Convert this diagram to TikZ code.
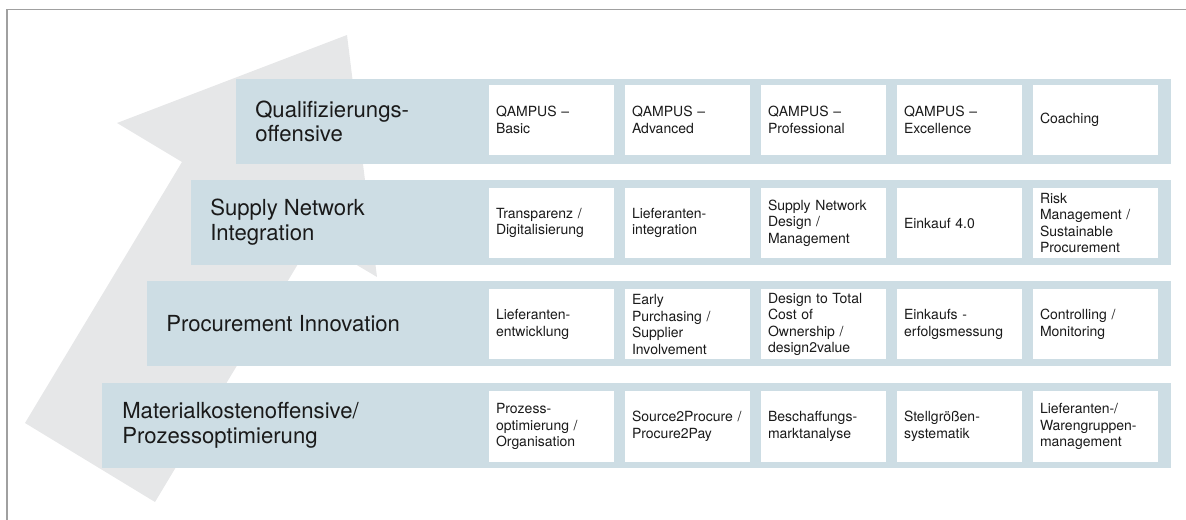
\documentclass[tikz,border=0pt]{standalone}
\usepackage{fontspec}
\setmainfont{TeX Gyre Heros}
\definecolor{rowblue}{HTML}{CDDDE4}
\definecolor{arrowgray}{HTML}{E6E7E8}
\definecolor{framegray}{HTML}{A0A0A0}
\definecolor{txt}{HTML}{1A1A1A}
\tikzset{
  rowbox/.style={fill=rowblue, draw=none, anchor=north west, minimum height=63.75pt, inner sep=0pt},
  rowlabel/.style={anchor=west, align=left, inner sep=0pt, text=txt,
    font=\fontsize{16.6}{18.6}\selectfont},
  cell/.style={fill=white, draw=none, text width=83.25pt, inner xsep=5.25pt, inner ysep=0pt,
    minimum height=52.5pt, align=left, text=txt, font=\fontsize{10.5}{12.4}\selectfont},
}
\begin{document}
\begin{tikzpicture}[x=0.75pt,y=-0.75pt]
\useasboundingbox (0,0) rectangle (1186,520);
% frame
\draw[framegray, line width=1.1pt] (7,520) -- (7,9.5) -- (1186,9.5);
% big arrow
\fill[arrowgray] (25,423) -- (182,162) -- (117,123) -- (347,35) -- (377,277) -- (313,239) -- (155,502) -- cycle;
% rows
\node[rowbox, minimum width=701.25pt] (r1) at (236,79) {};
\node[rowbox, minimum width=735pt] (r2) at (191,180) {};
\node[rowbox, minimum width=768pt] (r3) at (147,281) {};
\node[rowbox, minimum width=801.75pt] (r4) at (102,383) {};
% row labels
\node[rowlabel] (l1) at (255,121.5) {Qualifizierungs-\\offensive};
\node[rowlabel] (l2) at (210,222.5) {Supply Network\\Integration};
\node[rowlabel] (l3) at (166,323.5) {Procurement Innovation};
\node[rowlabel] (l4) at (122,425.5) {Materialkostenoffensive/\\Prozessoptimierung};
% row 1
\node[cell] (a1) at (551.5,120) {QAMPUS –\\Basic};
\node[cell] (a2) at (687.5,120) {QAMPUS –\\Advanced};
\node[cell] (a3) at (823.5,120) {QAMPUS –\\Professional};
\node[cell] (a4) at (959.5,120) {QAMPUS –\\Excellence};
\node[cell] (a5) at (1095.5,120) {Coaching};
% row 2
\node[cell] (b1) at (551.5,223) {Transparenz /\\Digitalisierung};
\node[cell] (b2) at (687.5,223) {Lieferanten-\\integration};
\node[cell] (b3) at (823.5,223) {Supply Network\\Design /\\Management};
\node[cell] (b4) at (959.5,223) {Einkauf 4.0};
\node[cell] (b5) at (1095.5,223) {Risk\\Management /\\Sustainable\\Procurement};
% row 3
\node[cell] (c1) at (551.5,324.5) {Lieferanten-\\entwicklung};
\node[cell] (c2) at (687.5,324.5) {Early\\Purchasing /\\Supplier\\Involvement};
\node[cell] (c3) at (823.5,324.5) {Design to Total\\Cost of\\Ownership /\\design2value};
\node[cell] (c4) at (959.5,324.5) {Einkaufs -\\erfolgsmessung};
\node[cell] (c5) at (1095.5,324.5) {Controlling /\\Monitoring};
% row 4
\node[cell] (d1) at (551.5,426.5) {Prozess-\\optimierung /\\Organisation};
\node[cell] (d2) at (687.5,426.5) {Source2Procure /\\Procure2Pay};
\node[cell] (d3) at (823.5,426.5) {Beschaffungs-\\marktanalyse};
\node[cell] (d4) at (959.5,426.5) {Stellgrößen-\\systematik};
\node[cell] (d5) at (1095.5,426.5) {Lieferanten-/\\Warengruppen-\\management};
\end{tikzpicture}
\end{document}
